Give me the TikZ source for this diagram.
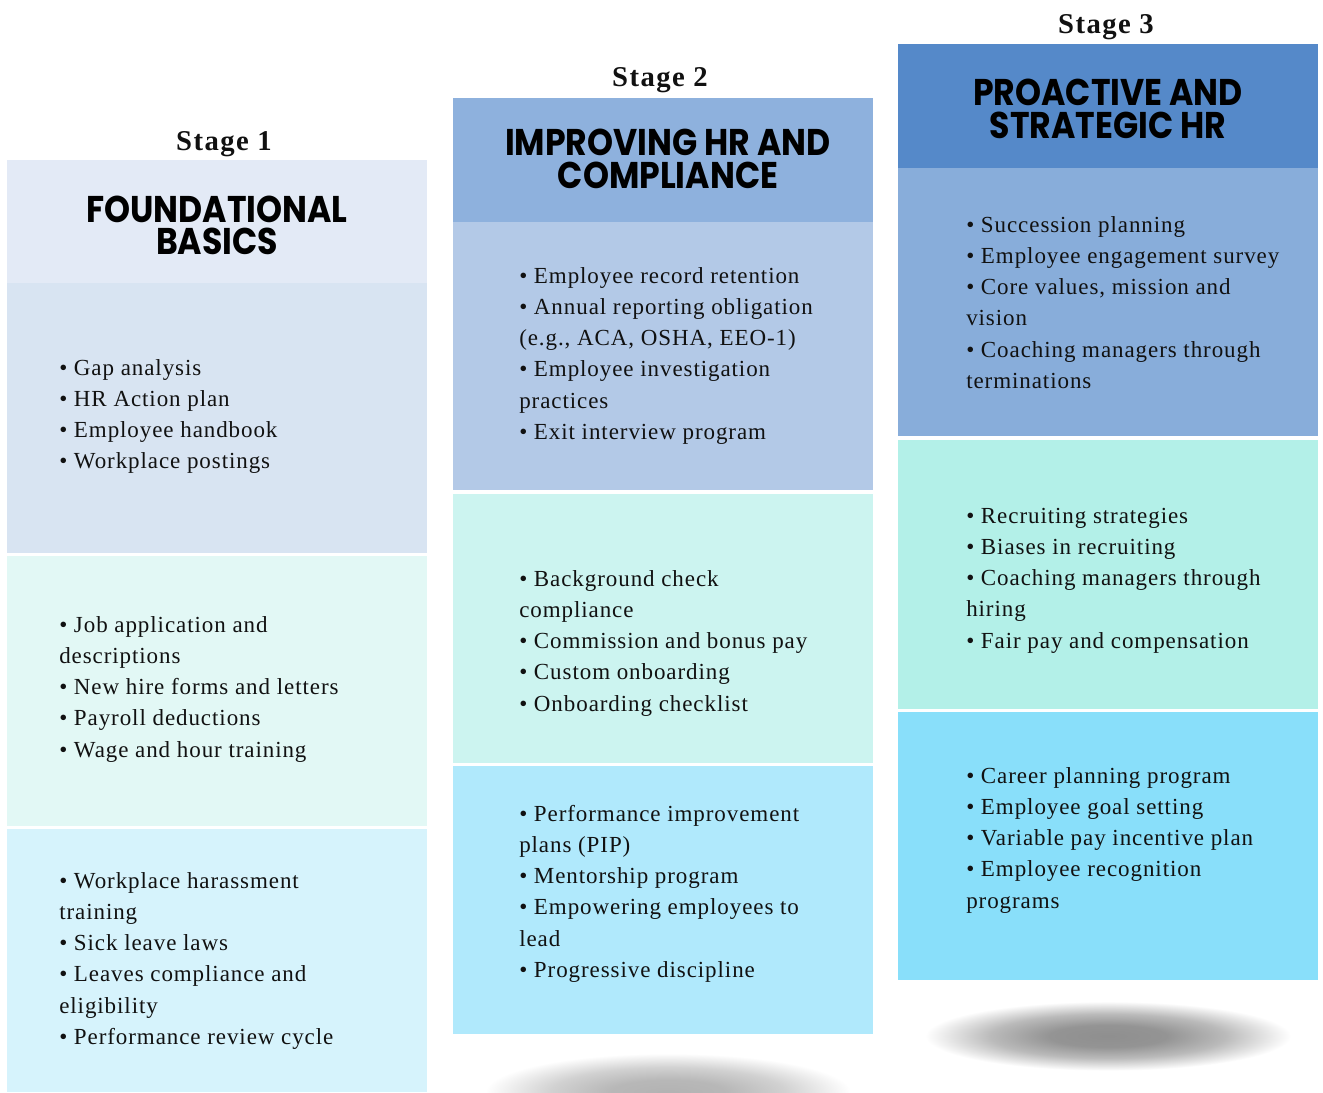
\documentclass[tikz,border=0pt]{standalone}
\usepackage{fontspec}
\setmainfont{Liberation Serif}
\newfontfamily\bodyfont{Liberation Serif}[LetterSpace=4]
\newfontfamily\stagefont{Liberation Serif}[LetterSpace=5]
\newfontfamily\headfont{Poppins}[FakeStretch=0.89]
\definecolor{txt}{HTML}{111111}
\definecolor{cah}{HTML}{E3EAF6}
\definecolor{caa}{HTML}{D8E4F2}
\definecolor{cab}{HTML}{E2F8F5}
\definecolor{cac}{HTML}{D6F3FC}
\definecolor{cbh}{HTML}{8EB1DD}
\definecolor{cba}{HTML}{B3C9E7}
\definecolor{cbb}{HTML}{CCF4F0}
\definecolor{cbc}{HTML}{B0E9FC}
\definecolor{cch}{HTML}{5589C9}
\definecolor{cca}{HTML}{88ADDA}
\definecolor{ccb}{HTML}{B3F0E8}
\definecolor{ccc}{HTML}{89DFFA}
\pgfdeclareradialshading{shadowdark}{\pgfpoint{0bp}{0bp}}{color(0bp)=(black!44); color(8bp)=(black!42); color(16bp)=(black!27); color(22bp)=(black!9); color(25bp)=(white); color(50bp)=(white)}
\pgfdeclareradialshading{shadowlight}{\pgfpoint{0bp}{0bp}}{color(0bp)=(black!30); color(8bp)=(black!28); color(16bp)=(black!18); color(22bp)=(black!6); color(25bp)=(white); color(50bp)=(white)}
\newcommand\itemlist[4]{\foreach \t [count=\i from 0] in {#4}{\node[itm] (#1-\i) at (#2,{#3+31.3*\i}) {\t};}}
\tikzset{
  itm/.style={anchor=base west, inner sep=0pt, text=txt, font=\bodyfont\fontsize{17.25}{20}\selectfont},
  stagelbl/.style={anchor=base, inner sep=0pt, text=txt, font=\stagefont\bfseries\fontsize{21.5}{24}\selectfont},
  headlbl/.style={anchor=base, inner sep=0pt, text=black, font=\headfont\bfseries\fontsize{27.9}{24}\selectfont},
}
\begin{document}
\begin{tikzpicture}[x=0.75pt,y=-0.75pt]
\useasboundingbox (0,0) rectangle (1323,1092);
\clip (0,0) rectangle (1323,1092);
\fill[white] (0,0) rectangle (1323,1092);
% shadows
\shade[shading=shadowlight] (668,1092) ellipse [x radius=137pt, y radius=29pt];
\shade[shading=shadowdark] (1108,1036) ellipse [x radius=137pt, y radius=26pt];
% column 1
\fill[cah] (7,160) rectangle (427,283);
\fill[caa] (7,283) rectangle (427,553);
\fill[cab] (7,556) rectangle (427,826);
\fill[cac] (7,829) rectangle (427,1092);
% column 2
\fill[cbh] (453,98) rectangle (873,222);
\fill[cba] (453,222) rectangle (873,490);
\fill[cbb] (453,494) rectangle (873,763);
\fill[cbc] (453,766) rectangle (873,1034);
% column 3
\fill[cch] (898,44) rectangle (1318,168);
\fill[cca] (898,168) rectangle (1318,436);
\fill[ccb] (898,440) rectangle (1318,709);
\fill[ccc] (898,712) rectangle (1318,980);
% stage labels
\node[stagelbl] (s1) at (224,150) {Stage 1};
\node[stagelbl] (s2) at (660,86) {Stage 2};
\node[stagelbl] (s3) at (1106,33) {Stage 3};
% headings
\node[headlbl] (h1a) at (217,222) {FOUNDATIONAL};
\node[headlbl] (h1b) at (217,254) {BASICS};
\node[headlbl] (h2a) at (668,155) {IMPROVING HR AND};
\node[headlbl] (h2b) at (668,188) {COMPLIANCE};
\node[headlbl] (h3a) at (1108,105) {PROACTIVE AND};
\node[headlbl] (h3b) at (1108,138) {STRATEGIC HR};
% lists
\itemlist{a1}{59}{375}{{• Gap analysis},{• HR Action plan},{• Employee handbook},{• Workplace postings}}
\itemlist{a2}{59}{632}{{• Job application and},{descriptions},{• New hire forms and letters},{• Payroll deductions},{• Wage and hour training}}
\itemlist{a3}{59}{888}{{• Workplace harassment},{training},{• Sick leave laws},{• Leaves compliance and},{eligibility},{• Performance review cycle}}
\itemlist{b1}{519}{283}{{• Employee record retention},{• Annual reporting obligation},{(e.g., ACA, OSHA, EEO-1)},{• Employee investigation},{practices},{• Exit interview program}}
\itemlist{b2}{519}{586}{{• Background check},{compliance},{• Commission and bonus pay},{• Custom onboarding},{• Onboarding checklist}}
\itemlist{b3}{519}{821}{{• Performance improvement},{plans (PIP)},{• Mentorship program},{• Empowering employees to},{lead},{• Progressive discipline}}
\itemlist{c1}{966}{232}{{• Succession planning},{• Employee engagement survey},{• Core values, mission and},{vision},{• Coaching managers through},{terminations}}
\itemlist{c2}{966}{523}{{• Recruiting strategies},{• Biases in recruiting},{• Coaching managers through},{hiring},{• Fair pay and compensation}}
\itemlist{c3}{966}{783}{{• Career planning program},{• Employee goal setting},{• Variable pay incentive plan},{• Employee recognition},{programs}}
\end{tikzpicture}
\end{document}
